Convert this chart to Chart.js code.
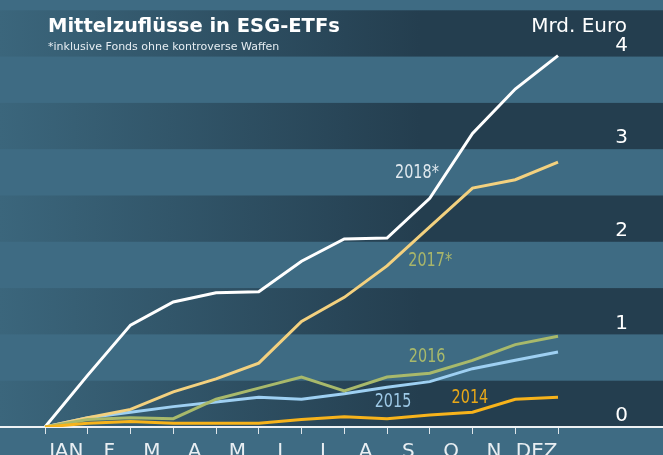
<!DOCTYPE html>
<html>
<head>
<meta charset="utf-8">
<script src="https://cdn.jsdelivr.net/npm/chart.js@4/dist/chart.umd.min.js"></script>
<style>
  html, body { margin: 0; padding: 0; background: #3e6b83; }
  #wrap { width: 663px; height: 455px; position: relative; }
</style>
</head>
<body>
<div id="wrap"><canvas id="c"></canvas></div>
<script>
// ---- data ----
const monthLabels = ['JAN','F','M','A','M','J','J','A','S','O','N','DEZ'];
const yTicks = [0, 1, 2, 3, 4];
// cumulative inflows at start of Jan and end of each month (Mrd. Euro)
const v2018 = [0, 0.56, 1.10, 1.35, 1.45, 1.46, 1.79, 2.03, 2.04, 2.47, 3.17, 3.65, 4.01];
const v2017 = [0, 0.10, 0.19, 0.38, 0.52, 0.69, 1.14, 1.40, 1.74, 2.16, 2.58, 2.67, 2.86];
const v2016 = [0, 0.08, 0.10, 0.09, 0.30, 0.42, 0.54, 0.39, 0.54, 0.58, 0.72, 0.89, 0.98];
const v2015 = [0, 0.10, 0.16, 0.22, 0.27, 0.32, 0.30, 0.36, 0.43, 0.49, 0.63, 0.72, 0.81];
const v2014 = [0, 0.04, 0.06, 0.04, 0.04, 0.04, 0.08, 0.11, 0.09, 0.13, 0.16, 0.30, 0.32];
const seriesNames = ['2018*', '2017*', '2016', '2015', '2014'];

// ---- styling ----
const FAMILY = '"DejaVu Sans", sans-serif';
const STRETCH = 'condensed';
const lineColors = { '2018*': '#ffffff', '2017*': '#f3d17f', '2016': '#a8b96b', '2015': '#9ed0f2', '2014': '#f7b31b' };
const labelColors = { '2018*': '#dfe8ee', '2017*': '#a8b56a', '2016': '#a8b96b', '2015': '#9dc9e6', '2014': '#e8a818' };
// label anchor positions in data coordinates (month index, value)
const labelAnchors = { '2018*': [8.70, 2.74], '2017*': [9.01, 1.79], '2016': [8.94, 0.76], '2015': [8.14, 0.27], '2014': [9.94, 0.32] };

const valuesByName = { '2018*': v2018, '2017*': v2017, '2016': v2016, '2015': v2015, '2014': v2014 };
const drawOrder = ['2014', '2016', '2017*', '2015', '2018*'];

function toPoints(arr) { return arr.map((v, i) => ({ x: i, y: v })); }

const datasets = drawOrder.map(name => ({
  label: name,
  data: toPoints(valuesByName[name]),
  borderColor: lineColors[name],
  borderWidth: 3,
  pointRadius: 0,
  tension: 0,
  fill: false
}));

const bgPlugin = {
  id: 'bg',
  beforeDraw(chart) {
    const ctx = chart.ctx, W = chart.width, H = chart.height;
    const y = chart.scales.y;
    ctx.save();
    ctx.fillStyle = '#3e6b83';
    ctx.fillRect(0, 0, W, H);
    const g = ctx.createLinearGradient(0, 0, 420, 0);
    g.addColorStop(0, '#3b667c');
    g.addColorStop(1, '#243e4f');
    ctx.fillStyle = g;
    for (let k = 0; k <= 4; k++) {
      const top = y.getPixelForValue(k + 0.5), bot = y.getPixelForValue(k);
      ctx.fillRect(0, top, W, bot - top);
    }
    ctx.restore();
  }
};

function setFont(ctx, weight, size) {
  ctx.font = weight + ' ' + size + 'px ' + FAMILY;
}

const textPlugin = {
  id: 'texts',
  afterDraw(chart) {
    const ctx = chart.ctx;
    const xs = chart.scales.x, ys = chart.scales.y;
    ctx.save();
    ctx.textBaseline = 'alphabetic';
    ctx.fillStyle = '#ffffff';
    ctx.textAlign = 'left';
    setFont(ctx, 'bold', 19.5);
    ctx.fillText('Mittelzuflüsse in ESG-ETFs', 48, 32);
    setFont(ctx, 'normal', 11);
    ctx.fillStyle = '#e6edf2';
    ctx.fillText('*inklusive Fonds ohne kontroverse Waffen', 48, 50);
    ctx.textAlign = 'right';
    ctx.fillStyle = '#ffffff';
    setFont(ctx, 'normal', 20);
    ctx.fillText('Mrd. Euro', 627, 32);
    ctx.textAlign = 'center';
    ctx.textBaseline = 'middle';
    setFont(ctx, 'normal', 20);
    seriesNames.forEach(n => {
      const [ax, ay] = labelAnchors[n];
      const px = xs.getPixelForValue(ax), py = ys.getPixelForValue(ay);
      ctx.save();
      ctx.translate(px, py);
      ctx.scale(0.72, 1);
      ctx.fillStyle = labelColors[n];
      ctx.fillText(n, 0, 0);
      ctx.restore();
    });
    ctx.restore();
  }
};

new Chart(document.getElementById('c'), {
  type: 'line',
  data: { datasets },
  options: {
    responsive: true,
    maintainAspectRatio: false,
    animation: false,
    layout: { padding: 0 },
    plugins: { legend: { display: false }, tooltip: { enabled: false } },
    scales: {
      x: {
        type: 'linear',
        min: -1.053,
        max: 14.456,
        afterBuildTicks(s) { s.ticks = monthLabels.concat(['']).map((_, i) => ({ value: i })); },
        afterFit(s) { s.height = 28; s.paddingLeft = 0; s.paddingRight = 0; s.paddingTop = 0; s.paddingBottom = 0; },
        grid: { drawOnChartArea: false, drawTicks: true, tickLength: 7, color: '#dfe6ea', lineWidth: 1 },
        border: { display: true, color: '#eef2f4', width: 2 },
        ticks: {
          autoSkip: false, maxRotation: 0, minRotation: 0,
          labelOffset: 21.4, padding: 6,
          color: '#e8eef2',
          font: { family: FAMILY, size: 20 },
          callback: (v, i) => monthLabels[i] || ''
        }
      },
      y: {
        position: 'right',
        min: 0,
        max: 4.611,
        afterBuildTicks(s) { s.ticks = yTicks.map(v => ({ value: v })); },
        afterFit(s) { s.width = 0; s.paddingLeft = 0; s.paddingRight = 0; s.paddingTop = 0; s.paddingBottom = 0; },
        grid: { display: false, drawTicks: false },
        border: { display: false },
        ticks: {
          mirror: true, align: 'near', padding: -35, labelOffset: -11,
          color: '#ffffff',
          font: { family: FAMILY, size: 20 }
        }
      }
    }
  },
  plugins: [bgPlugin, textPlugin]
});
</script>
</body>
</html>
